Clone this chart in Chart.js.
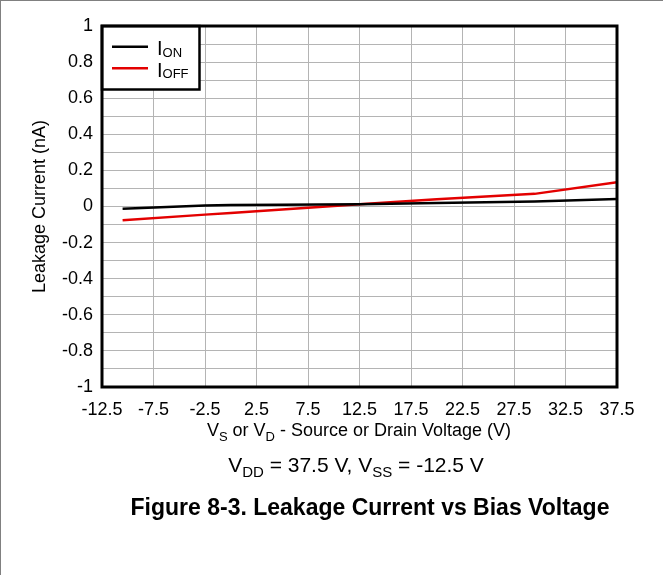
<!DOCTYPE html>
<html>
<head>
<meta charset="utf-8">
<script src="https://cdn.jsdelivr.net/npm/chart.js@4.4.1/dist/chart.umd.min.js"></script>
<style>
  html, body { margin: 0; padding: 0; background: #fff; }
  #wrap { position: relative; width: 663px; height: 575px; overflow: hidden; font-family: "Liberation Sans", Arial, sans-serif; color: #000; }
  #edge { position: absolute; left: 0; top: 0; right: 0; bottom: 0; border-top: 1px solid #808080; border-left: 1px solid #808080; pointer-events: none; }
  .txt { position: absolute; white-space: nowrap; transform: translateX(-50%); }
  .txt sub { vertical-align: baseline; position: relative; line-height: 0; }
  #xtitle { left: 359px; top: 421px; font-size: 18px; line-height: 18px; }
  #xtitle sub { font-size: 13px; top: 5px; }
  #cond { left: 356px; top: 454px; font-size: 21px; line-height: 21px; }
  #cond sub { font-size: 15px; top: 5px; }
  #caption { left: 370px; top: 496px; font-size: 23px; line-height: 23px; font-weight: bold; }
</style>
</head>
<body>
<div id="wrap">
  <canvas id="leakChart" width="663" height="575"></canvas>
  <div id="xtitle" class="txt">V<sub>S</sub> or V<sub>D</sub> - Source or Drain Voltage (V)</div>
  <div id="cond" class="txt">V<sub>DD</sub> = 37.5 V, V<sub>SS</sub> = -12.5 V</div>
  <div id="caption" class="txt">Figure 8-3. Leakage Current vs Bias Voltage</div>
  <div id="edge"></div>
</div>
<script>
// values
const voltages = [-10.5, -2.5, 0, 5, 12.5, 20, 29.5, 37.5];
const iOn  = [-0.013, 0.006, 0.009, 0.010, 0.012, 0.019, 0.028, 0.041];
const iOff = [-0.076, -0.045, -0.036, -0.016, 0.013, 0.040, 0.070, 0.135];

const legendItems = [
    { main: 'I', sub: 'ON', color: '#000000' },
    { main: 'I', sub: 'OFF', color: '#e30000' }
];

const FONT = '"Liberation Sans", Arial, sans-serif';

// frame round the plot area plus the boxed legend in the top-left corner
const framePlugin = {
    id: 'frame',
    afterDraw(chart) {
        const { ctx, chartArea: a } = chart;
        ctx.save();
        // legend box
        const bw = 97.5, bh = 63.5;
        ctx.fillStyle = '#fff';
        ctx.fillRect(a.left, a.top, bw, bh);
        ctx.lineWidth = 2.5;
        ctx.strokeStyle = '#000';
        ctx.strokeRect(a.left, a.top, bw, bh);
        legendItems.forEach((it, i) => {
            const ly = a.top + 20.7 + i * 21.6;
            ctx.beginPath();
            ctx.moveTo(a.left + 10, ly);
            ctx.lineTo(a.left + 46, ly);
            ctx.lineWidth = 2.5;
            ctx.strokeStyle = it.color;
            ctx.stroke();
            ctx.fillStyle = '#000';
            ctx.textBaseline = 'alphabetic';
            ctx.textAlign = 'left';
            ctx.font = '20px ' + FONT;
            const base = ly + 8.5;
            ctx.fillText(it.main, a.left + 55, base);
            const w = ctx.measureText(it.main).width;
            ctx.font = '13px ' + FONT;
            ctx.fillText(it.sub, a.left + 55 + w, base + 1.5);
        });
        // plot frame
        ctx.lineWidth = 3;
        ctx.strokeStyle = '#000';
        ctx.strokeRect(a.left, a.top, a.right - a.left, a.bottom - a.top);
        ctx.restore();
    }
};

const ctx = document.getElementById('leakChart').getContext('2d');
new Chart(ctx, {
    type: 'line',
    data: {
        datasets: [
            {
                label: 'ION',
                data: voltages.map((v, i) => ({ x: v, y: iOn[i] })),
                borderColor: '#000000',
                borderWidth: 2.5,
                pointRadius: 0,
                fill: false
            },
            {
                label: 'IOFF',
                data: voltages.map((v, i) => ({ x: v, y: iOff[i] })),
                borderColor: '#e30000',
                borderWidth: 2.5,
                pointRadius: 0,
                fill: false
            }
        ]
    },
    options: {
        responsive: false,
        animation: false,
        layout: { padding: { left: 0, right: 46, top: 26, bottom: 0 } },
        plugins: { legend: { display: false }, tooltip: { enabled: false } },
        scales: {
            x: {
                type: 'linear',
                min: -12.5,
                max: 37.5,
                border: { display: false },
                grid: { color: '#b4b4b4', lineWidth: 1, drawTicks: false },
                ticks: {
                    stepSize: 5,
                    autoSkip: false,
                    maxRotation: 0,
                    padding: 12,
                    color: '#000',
                    font: { family: FONT, size: 18 },
                    callback: v => v.toFixed(1)
                },
                afterFit: s => { s.height = 188; }
            },
            y: {
                min: -1,
                max: 1,
                border: { display: false },
                grid: { color: '#b4b4b4', lineWidth: 1, drawTicks: false },
                ticks: {
                    stepSize: 0.1,
                    autoSkip: false,
                    padding: 9,
                    color: '#000',
                    font: { family: FONT, size: 18 },
                    callback: v => {
                        const k = Math.round(v * 10);
                        return k % 2 === 0 ? String(k / 10) : '';
                    }
                },
                title: {
                    display: true,
                    text: 'Leakage Current (nA)',
                    color: '#000',
                    font: { family: FONT, size: 18 },
                    padding: { top: 29, bottom: 0 }
                },
                afterFit: s => { s.width = 102; }
            }
        }
    },
    plugins: [framePlugin]
});
</script>
</body>
</html>
